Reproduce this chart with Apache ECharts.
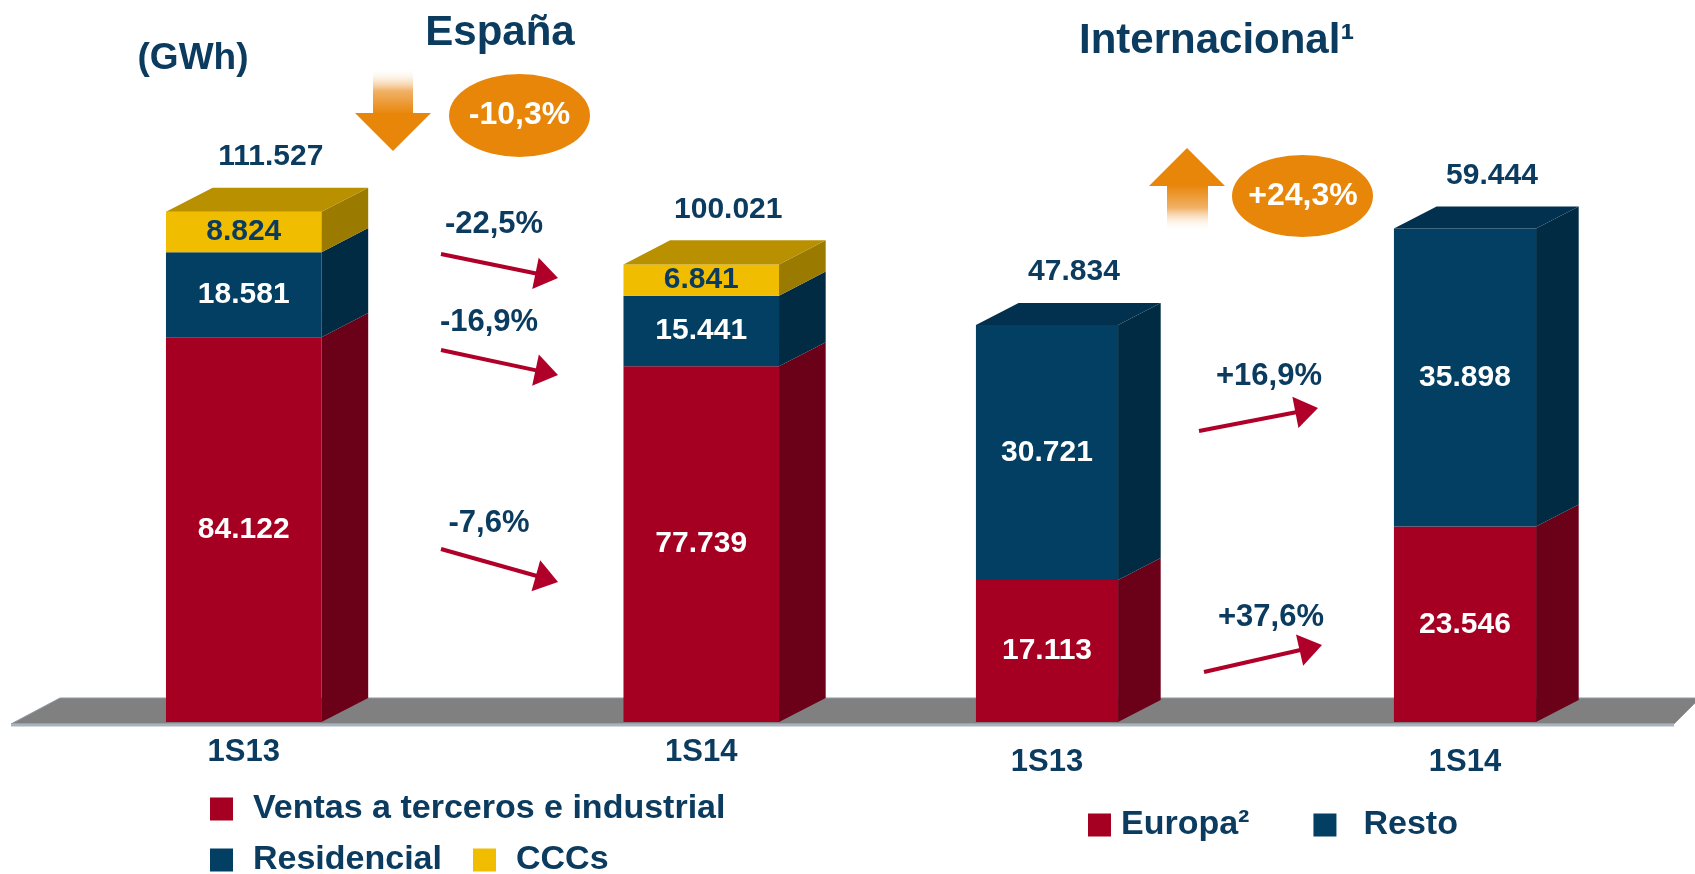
<!DOCTYPE html>
<html><head><meta charset="utf-8">
<script src="https://cdn.jsdelivr.net/npm/echarts@6/dist/echarts.min.js"></script>
<style>html,body{margin:0;padding:0;background:#fff}#c{width:1695px;height:874px}</style>
</head><body><div id="c"></div>
<script>
// ---- data ----
const categories = ['1S13', '1S14'];
const espVentas = [84122, 77739];
const espResidencial = [18581, 15441];
const espCCCs = [8824, 6841];
const intEuropa = [17113, 23546];
const intResto = [30721, 35898];
const espChanges = ['-22,5%', '-16,9%', '-7,6%'];
const intChanges = ['+16,9%', '+37,6%'];
const espTotalChange = '-10,3%';
const intTotalChange = '+24,3%';

// ---- styles ----
const FONT = "'Liberation Sans', Arial, sans-serif";
const BLUE_TXT = '#0b3c60';
const ORANGE = '#e8860a';
const ARROW_RED = '#b0002a';
const COL = {
  red:    {front: '#a50021', side: '#6b0019', top: '#7a0020'},
  blue:   {front: '#023f63', side: '#002b43', top: '#01314f'},
  yellow: {front: '#f0bd00', side: '#9b7a00', top: '#b89000'}
};

function fmt(n) { return String(Math.round(n)).replace(/\B(?=(\d{3})+(?!\d))/g, '.'); }

function stackData(vals, base) {
  return vals.map((v, i) => [i, base[i], base[i] + v, v]);
}
function addArr(a, b) { return a.map((v, i) => v + b[i]); }

function makeRender(c, labelColor, isTop) {
  return function (params, api) {
    const cat = api.value(0), b = api.value(1), t = api.value(2), v = api.value(3);
    const p0 = api.coord([cat, b]);
    const p1 = api.coord([cat, t]);
    const band = api.size([1, 0])[0];
    const w = band * 0.34;
    const dx = w * 0.3, dy = w * 0.155;
    const xl = p0[0] - w / 2, xr = p0[0] + w / 2;
    const children = [
      {type: 'rect', shape: {x: xl, y: p1[1], width: w, height: p0[1] - p1[1]}, style: {fill: c.front}},
      {type: 'polygon', shape: {points: [[xr, p1[1]], [xr + dx, p1[1] - dy], [xr + dx, p0[1] - dy], [xr, p0[1]]]}, style: {fill: c.side}},
      {type: 'text', x: p0[0], y: (p0[1] + p1[1]) / 2,
        style: {text: fmt(v), fill: labelColor, font: 'bold 30px ' + FONT, align: 'center', verticalAlign: 'middle'}}
    ];
    if (isTop) {
      children.push({type: 'polygon', shape: {points: [[xl, p1[1]], [xl + dx, p1[1] - dy], [xr + dx, p1[1] - dy], [xr, p1[1]]]}, style: {fill: c.top}});
      children.push({type: 'text', x: p0[0] + 27, y: p1[1] - dy - 31,
        style: {text: fmt(t), fill: BLUE_TXT, font: 'bold 30px ' + FONT, align: 'center', verticalAlign: 'middle'}});
    }
    return {type: 'group', children: children};
  };
}

function customSeries(name, vals, base, c, labelColor, isTop, axisIdx) {
  return {
    type: 'custom', name: name, xAxisIndex: axisIdx, yAxisIndex: axisIdx,
    itemStyle: {color: c.front},
    encode: {x: 0, y: [1, 2]},
    data: stackData(vals, base),
    renderItem: makeRender(c, labelColor, isTop),
    silent: true
  };
}

const zero = categories.map(() => 0);
const espB1 = espVentas;
const espB2 = addArr(espVentas, espResidencial);

const series = [
  customSeries('Ventas a terceros e industrial', espVentas, zero, COL.red, '#fff', false, 0),
  customSeries('Residencial', espResidencial, espB1, COL.blue, '#fff', false, 0),
  customSeries('CCCs', espCCCs, espB2, COL.yellow, BLUE_TXT, true, 0),
  customSeries('Europa²', intEuropa, zero, COL.red, '#fff', false, 1),
  customSeries('Resto', intResto, intEuropa, COL.blue, '#fff', true, 1)
];

// ---- decorations ----
function redArrow(x1, y1, x2, y2) {
  const a = Math.atan2(y2 - y1, x2 - x1);
  const L = 23, W = 16;
  const cs = Math.cos(a), sn = Math.sin(a);
  const bx = x2 - L * cs, by = y2 - L * sn;
  const nx = -sn, ny = cs;
  return [
    {type: 'line', shape: {x1: x1, y1: y1, x2: bx + 2 * cs, y2: by + 2 * sn}, style: {stroke: ARROW_RED, lineWidth: 4}},
    {type: 'polygon', shape: {points: [[x2, y2], [bx + nx * W, by + ny * W], [bx - nx * W, by - ny * W]]}, style: {fill: ARROW_RED}}
  ];
}
function txt(text, x, y, size, color, align) {
  return {type: 'text', x: x, y: y, z: 10,
    style: {text: text, fill: color, font: 'bold ' + size + 'px ' + FONT, align: align || 'center', verticalAlign: 'middle'}};
}
function grad(c0, c1, c2) {
  return {type: 'linear', x: 0, y: 0, x2: 0, y2: 1,
    colorStops: [{offset: 0, color: c0}, {offset: 0.5, color: c1}, {offset: 1, color: c2}]};
}

const graphics = [
  // floor
  {type: 'polygon', z: 0, shape: {points: [[11, 724], [60, 698], [1700, 698], [1674, 724]]},
    style: {fill: '#808080', stroke: '#8e99a5', lineWidth: 1}},
  {type: 'line', z: 0, shape: {x1: 11, y1: 725, x2: 1674, y2: 725}, style: {stroke: '#a9b3be', lineWidth: 3}},
  // titles
  txt('España', 500, 33, 42, BLUE_TXT),
  txt('(GWh)', 193, 59, 37, BLUE_TXT),
  txt('Internacional¹', 1079, 41, 42, BLUE_TXT, 'left'),
  // España total change
  {type: 'rect', shape: {x: 373, y: 68, width: 40, height: 46},
    style: {fill: grad('rgba(255,255,255,0)', '#f1b166', ORANGE)}},
  {type: 'polygon', shape: {points: [[355, 113], [431, 113], [393, 151]]}, style: {fill: ORANGE}},
  {type: 'circle', x: 519.5, y: 115.5, scaleX: 70.5 / 41.5, shape: {cx: 0, cy: 0, r: 41.5}, style: {fill: ORANGE}},
  txt(espTotalChange, 519.5, 115.5, 32, '#fff'),
  // Internacional total change
  {type: 'rect', shape: {x: 1167, y: 185, width: 41, height: 46},
    style: {fill: grad(ORANGE, '#f1b166', 'rgba(255,255,255,0)')}},
  {type: 'polygon', shape: {points: [[1149, 186], [1225, 186], [1187, 148]]}, style: {fill: ORANGE}},
  {type: 'circle', x: 1302.5, y: 196, scaleX: 70.5 / 41, shape: {cx: 0, cy: 0, r: 41}, style: {fill: ORANGE}},
  txt(intTotalChange, 1303, 196.5, 32, '#fff'),
  // segment change arrows
  txt(espChanges[0], 494, 224, 31, BLUE_TXT),
  ...redArrow(441, 254, 558, 278),
  txt(espChanges[1], 489, 322, 31, BLUE_TXT),
  ...redArrow(441, 350, 558, 375),
  txt(espChanges[2], 489, 523, 31, BLUE_TXT),
  ...redArrow(441, 549, 558, 582),
  txt(intChanges[0], 1269, 376, 31, BLUE_TXT),
  ...redArrow(1199, 431, 1318, 408),
  txt(intChanges[1], 1271, 617, 31, BLUE_TXT),
  ...redArrow(1204, 672, 1322, 645)
];

const legendBase = {
  orient: 'horizontal', icon: 'rect', itemWidth: 23, itemHeight: 23, padding: 0,
  selectedMode: false,
  textStyle: {fontSize: 34, fontWeight: 'bold', color: BLUE_TXT, fontFamily: FONT}
};

const option = {
  backgroundColor: '#fff',
  animation: false,
  grid: [
    {left: 15, width: 915, top: 173, height: 549},
    {left: 838, width: 836, top: 224, height: 498}
  ],
  xAxis: [
    {type: 'category', gridIndex: 0, data: categories, axisLine: {show: false}, axisTick: {show: false},
      axisLabel: {margin: 30, verticalAlign: 'middle', fontSize: 31, fontWeight: 'bold', color: BLUE_TXT, fontFamily: FONT}},
    {type: 'category', gridIndex: 1, data: categories, axisLine: {show: false}, axisTick: {show: false},
      axisLabel: {margin: 40, verticalAlign: 'middle', fontSize: 31, fontWeight: 'bold', color: BLUE_TXT, fontFamily: FONT}}
  ],
  yAxis: [
    {type: 'value', gridIndex: 0, min: 0, max: 120000, show: false, splitLine: {show: false}},
    {type: 'value', gridIndex: 1, min: 0, max: 60000, show: false, splitLine: {show: false}}
  ],
  legend: [
    Object.assign({}, legendBase, {left: 210, top: 792,
      data: [{name: 'Ventas a terceros e industrial', textStyle: {padding: [0, 0, 0, 15]}}]}),
    Object.assign({}, legendBase, {left: 210, top: 843, itemGap: 31,
      data: [{name: 'Residencial', textStyle: {padding: [0, 0, 0, 15]}}, {name: 'CCCs', textStyle: {padding: [0, 0, 0, 15]}}]}),
    Object.assign({}, legendBase, {left: 1088, top: 808, itemGap: 64,
      data: [{name: 'Europa²', textStyle: {padding: [0, 0, 0, 5]}}, {name: 'Resto', textStyle: {padding: [0, 0, 0, 22]}}]})
  ],
  graphic: graphics,
  series: series
};

const chart = echarts.init(document.getElementById('c'), null, {renderer: 'canvas'});
chart.setOption(option);
</script>
</body></html>
